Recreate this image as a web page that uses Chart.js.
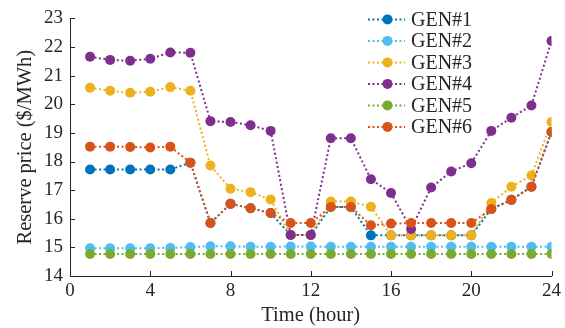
<!DOCTYPE html>
<html>
<head>
<meta charset="utf-8">
<script src="https://cdn.jsdelivr.net/npm/chart.js@4"></script>
<style>
  html, body { margin: 0; padding: 0; background: #fff; }
  #wrap { width: 565px; height: 328px; }
</style>
</head>
<body>
<div id="wrap"><canvas id="reserve-price"></canvas></div>
<script>
const hours = [1, 2, 3, 4, 5, 6, 7, 8, 9, 10, 11, 12, 13, 14, 15, 16, 17, 18, 19, 20, 21, 22, 23, 24];
const xTicks = [0, 4, 8, 12, 16, 20, 24];
const yTicks = [14, 15, 16, 17, 18, 19, 20, 21, 22, 23];

const gen1 = [17.72, 17.72, 17.72, 17.72, 17.72, 17.96, 15.85, 16.52, 16.37, 16.20, 15.43, 15.43, 16.41, 16.41, 15.42, 15.42, 15.42, 15.42, 15.42, 15.42, 16.34, 16.66, 17.12, 19.03];
const gen2 = [14.97, 14.97, 14.97, 14.97, 14.98, 15.01, 15.04, 15.04, 15.02, 15.02, 15.03, 15.03, 15.02, 15.02, 15.02, 15.02, 15.02, 15.02, 15.02, 15.02, 15.02, 15.02, 15.02, 15.02];
const gen3 = [20.58, 20.47, 20.40, 20.44, 20.60, 20.47, 17.86, 17.05, 16.93, 16.67, 15.43, 15.43, 16.60, 16.60, 16.42, 15.42, 15.42, 15.42, 15.42, 15.42, 16.55, 17.12, 17.51, 19.38];
const gen4 = [21.66, 21.55, 21.52, 21.59, 21.81, 21.80, 19.41, 19.38, 19.27, 19.07, 15.43, 15.43, 18.81, 18.81, 17.38, 16.90, 15.64, 17.09, 17.65, 17.94, 19.07, 19.53, 19.96, 22.21];
const gen5 = [14.77, 14.77, 14.77, 14.77, 14.77, 14.77, 14.77, 14.77, 14.77, 14.77, 14.77, 14.77, 14.77, 14.77, 14.77, 14.77, 14.77, 14.77, 14.77, 14.77, 14.77, 14.77, 14.77, 14.77];
const gen6 = [18.52, 18.52, 18.51, 18.49, 18.52, 17.96, 15.85, 16.52, 16.37, 16.20, 15.85, 15.85, 16.41, 16.41, 15.77, 15.83, 15.85, 15.85, 15.85, 15.85, 16.34, 16.66, 17.12, 19.03];

const seriesNames = ["GEN#1", "GEN#2", "GEN#3", "GEN#4", "GEN#5", "GEN#6"];
const seriesValues = [gen1, gen2, gen3, gen4, gen5, gen6];
const seriesColors = ["#0072BD", "#4DBEEE", "#EDB120", "#7E2F8E", "#77AC30", "#D95319"];

const axisColor = "#262626";
const serif = "'Liberation Serif', 'Times New Roman', serif";

// MATLAB style: ticks point into the plot box
const inwardTicks = {
    id: "inwardTicks",
    afterDraw(chart) {
        const { ctx, chartArea, scales } = chart;
        ctx.save();
        ctx.strokeStyle = axisColor;
        ctx.lineWidth = 1;
        ctx.beginPath();
        scales.x.ticks.forEach((t) => {
            const px = Math.round(scales.x.getPixelForValue(t.value)) + 0.5;
            ctx.moveTo(px, chartArea.bottom);
            ctx.lineTo(px, chartArea.bottom - 5);
        });
        scales.y.ticks.forEach((t) => {
            const py = Math.round(scales.y.getPixelForValue(t.value)) + 0.5;
            ctx.moveTo(chartArea.left, py);
            ctx.lineTo(chartArea.left + 5, py);
        });
        ctx.stroke();
        ctx.restore();
    },
};

// legend drawn inside the plot, top right, with dotted line + marker samples
const boxLegend = {
    id: "boxLegend",
    afterDraw(chart) {
        const { ctx, chartArea } = chart;
        const x0 = chartArea.left + 298;
        const y0 = chartArea.top + 1;
        ctx.save();
        ctx.font = "20px " + serif;
        ctx.textBaseline = "middle";
        seriesNames.forEach((name, i) => {
            const y = y0 + i * 21.5;
            ctx.strokeStyle = seriesColors[i];
            ctx.lineWidth = 2;
            ctx.setLineDash([2, 2.5]);
            ctx.beginPath();
            ctx.moveTo(x0, y);
            ctx.lineTo(x0 + 37, y);
            ctx.stroke();
            ctx.setLineDash([]);
            ctx.fillStyle = seriesColors[i];
            ctx.beginPath();
            ctx.arc(x0 + 19.5, y, 5, 0, Math.PI * 2);
            ctx.fill();
            ctx.fillStyle = axisColor;
            ctx.fillText(name, x0 + 43, y + 1);
        });
        ctx.restore();
    },
};

const ctx = document.querySelector("#reserve-price").getContext("2d");

const reserveChart = new Chart(ctx, {
    type: "line",
    data: {
        datasets: seriesNames.map((name, i) => ({
            label: name,
            data: hours.map((h, j) => ({ x: h, y: seriesValues[i][j] })),
            borderColor: seriesColors[i],
            backgroundColor: seriesColors[i],
            borderWidth: 2,
            borderDash: [2, 2.5],
            pointRadius: 5,
            pointBorderWidth: 0,
            pointBackgroundColor: seriesColors[i],
            tension: 0,
            fill: false,
            order: seriesNames.length - i,
        })),
    },
    options: {
        responsive: true,
        maintainAspectRatio: false,
        animation: false,
        layout: {
            padding: { left: 0, right: 12, top: 18, bottom: 0 },
        },
        scales: {
            x: {
                type: "linear",
                min: 0,
                max: 24,
                afterBuildTicks: (scale) => {
                    scale.ticks = xTicks.map((v) => ({ value: v }));
                },
                afterFit: (scale) => {
                    scale.height = 52;
                },
                grid: { drawOnChartArea: false, drawTicks: false },
                border: { display: true, color: axisColor, width: 1 },
                ticks: {
                    color: axisColor,
                    padding: 4,
                    maxRotation: 0,
                    font: { family: serif, size: 19 },
                },
                title: {
                    display: true,
                    text: "Time (hour)",
                    color: axisColor,
                    padding: { top: 0, bottom: 0 },
                    font: { family: serif, size: 20.5 },
                },
            },
            y: {
                type: "linear",
                min: 14,
                max: 23,
                afterBuildTicks: (scale) => {
                    scale.ticks = yTicks.map((v) => ({ value: v }));
                },
                afterFit: (scale) => {
                    scale.width = 70;
                },
                grid: { drawOnChartArea: false, drawTicks: false },
                border: { display: true, color: axisColor, width: 1 },
                ticks: {
                    color: axisColor,
                    padding: 7,
                    font: { family: serif, size: 19 },
                },
                title: {
                    display: true,
                    text: "Reserve price ($/MWh)",
                    color: axisColor,
                    padding: { top: 13, bottom: 0 },
                    font: { family: serif, size: 20.5 },
                },
            },
        },
        plugins: {
            legend: { display: false },
            tooltip: { enabled: false },
        },
    },
    plugins: [inwardTicks, boxLegend],
});
</script>
</body>
</html>
